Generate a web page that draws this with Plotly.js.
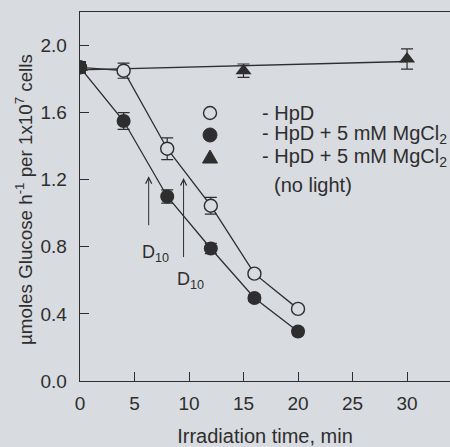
<!DOCTYPE html>
<html>
<head>
<meta charset="utf-8">
<script src="https://cdn.plot.ly/plotly-3.0.1.min.js"></script>
<style>
html,body{margin:0;padding:0;background:#d8dbe0;overflow:hidden;}
#chart{width:450px;height:447px;}
</style>
</head>
<body>
<div id="chart"></div>
<script>
// Data
const timeHpD = [0, 4, 8, 12, 16, 20];
const glucoseHpD = [1.87, 1.85, 1.385, 1.045, 0.64, 0.43];
const errHpD = [0.03, 0.045, 0.065, 0.05, 0.02, 0.02];

const timeMg = [0, 4, 8, 12, 16, 20];
const glucoseMg = [1.87, 1.55, 1.10, 0.79, 0.495, 0.295];
const errMg = [0.035, 0.05, 0.04, 0.03, 0.02, 0.02];

const timeDark = [0, 15, 30];
const glucoseDark = [1.87, 1.85, 1.92];
const errDark = [0.03, 0.04, 0.06];

const xTicks = [0, 5, 10, 15, 20, 25, 30];
const yTicks = [0.0, 0.4, 0.8, 1.2, 1.6, 2.0];

const legendNames = ['- HpD', '- HpD + 5 mM MgCl<sub>2</sub>', '- HpD + 5 mM MgCl<sub>2</sub>', '(no light)'];
const xTitle = 'Irradiation time, min';
const yTitle = 'µmoles Glucose h<sup>-1</sup> per 1x10<sup>7</sup> cells';

// D10 markers (time in min, arrow from/to glucose values)
const d10Time = [6.3, 9.5];
const d10From = [0.92, 0.73];
const d10To = [1.22, 1.21];
const d10LabelY = [0.76, 0.60];

// linear fit for the dark control
function fit(xs, ys){
  const n = xs.length;
  const mx = xs.reduce((a,b)=>a+b,0)/n, my = ys.reduce((a,b)=>a+b,0)/n;
  let num=0, den=0;
  for(let i=0;i<n;i++){num+=(xs[i]-mx)*(ys[i]-my);den+=(xs[i]-mx)**2;}
  const s=num/den; return [s, my - s*mx];
}
const [slope, icpt] = fit(timeDark, glucoseDark);
const fitX = [timeDark[0], timeDark[timeDark.length-1]];
const fitY = fitX.map(x => icpt + slope*x);

const ink = '#2e2e2e';
const bg = '#d8dbe0';
const fam = 'Liberation Sans, Arial, sans-serif';
const tickFont = {family: fam, size: 19, color: ink};
const d10Font = {family: fam, size: 18, color: ink};
const bigFont = {family: fam, size: 20, color: ink};

const ebar = (arr) => ({type: 'data', array: arr, visible: true, color: ink, thickness: 1.2, width: 6});

const traces = [
  {x: fitX, y: fitY, mode: 'lines', line: {color: ink, width: 1.3}, showlegend: false, hoverinfo: 'skip'},
  {x: timeHpD, y: glucoseHpD, name: legendNames[0], mode: 'lines+markers', showlegend: false,
   line: {color: ink, width: 1.3},
   marker: {symbol: 'circle', size: 13, color: bg, line: {width: 1.4, color: ink}},
   error_y: ebar(errHpD)},
  {x: timeMg, y: glucoseMg, name: legendNames[1], mode: 'lines+markers', showlegend: false,
   line: {color: ink, width: 1.3},
   marker: {symbol: 'circle', size: 14, color: ink},
   error_y: ebar(errMg)},
  {x: timeDark, y: glucoseDark, name: legendNames[2], mode: 'markers', showlegend: false,
   marker: {symbol: 'triangle-up', size: 14, color: ink},
   error_y: ebar(errDark)}
];

const annotations = [];
for (let i = 0; i < d10Time.length; i++) {
  annotations.push({x: d10Time[i], y: d10To[i], ax: d10Time[i], ay: d10From[i],
    xref: 'x', yref: 'y', axref: 'x', ayref: 'y', text: '', showarrow: true,
    arrowhead: 5, arrowsize: 1.2, arrowwidth: 1, arrowcolor: ink});
  annotations.push({x: d10Time[i] + 0.6, y: d10LabelY[i], xref: 'x', yref: 'y',
    text: 'D<sub>10</sub>', showarrow: false, font: d10Font});
}

// Hand-placed legend (paper coordinates)
const legX = 0.3514, legTextX = 0.4865;
const legY = [0.7263, 0.6667, 0.6070, 0.5312];
for (let i = 0; i < 3; i++) {
  annotations.push({x: legTextX, y: legY[i], xref: 'paper', yref: 'paper', xanchor: 'left', yanchor: 'middle',
    text: legendNames[i], showarrow: false, font: bigFont});
}
annotations.push({x: legTextX + 0.032, y: legY[3], xref: 'paper', yref: 'paper', xanchor: 'left', yanchor: 'middle',
  text: legendNames[3], showarrow: false, font: bigFont});

// y-axis title
annotations.push({x: -0.1514, y: 0.4932, xref: 'paper', yref: 'paper', xanchor: 'center', yanchor: 'middle',
  textangle: -90, text: yTitle, showarrow: false, font: {family: fam, size: 18.8, color: ink}});

const shapes = [
  {type: 'circle', xref: 'paper', yref: 'paper', xsizemode: 'pixel', ysizemode: 'pixel',
   xanchor: legX, yanchor: legY[0], x0: -6.5, x1: 6.5, y0: -6.5, y1: 6.5,
   line: {color: ink, width: 1.4}, fillcolor: bg},
  {type: 'circle', xref: 'paper', yref: 'paper', xsizemode: 'pixel', ysizemode: 'pixel',
   xanchor: legX, yanchor: legY[1], x0: -7, x1: 7, y0: -7, y1: 7,
   line: {color: ink, width: 1}, fillcolor: ink},
  {type: 'path', xref: 'paper', yref: 'paper', xsizemode: 'pixel', ysizemode: 'pixel',
   xanchor: legX, yanchor: legY[2], path: 'M -7.5 -6 L 7.5 -6 L 0 7 Z',
   line: {color: ink, width: 1}, fillcolor: ink}
];

const layout = {
  width: 450, height: 447,
  margin: {l: 80, r: 0, t: 12, b: 66},
  paper_bgcolor: bg, plot_bgcolor: bg,
  font: tickFont,
  showlegend: false,
  xaxis: {range: [0, 33.94], tickvals: xTicks, ticks: 'inside', ticklen: 9, tickcolor: ink,
    ticklabelstandoff: 5, tickfont: tickFont,
    showline: true, linecolor: ink, linewidth: 1.3, mirror: true, showgrid: false, zeroline: false,
    title: {text: xTitle, font: {family: fam, size: 20, color: ink}, standoff: 18}},
  yaxis: {range: [0, 2.2], tickvals: yTicks, ticktext: yTicks.map(v => v.toFixed(1)),
    ticks: 'inside', ticklen: 9, tickcolor: ink, ticklabelstandoff: 8, tickfont: tickFont,
    showline: true, linecolor: ink, linewidth: 1.3, showgrid: false, zeroline: false},
  annotations: annotations,
  shapes: shapes
};

Plotly.newPlot('chart', traces, layout, {displayModeBar: false, staticPlot: true});
</script>
</body>
</html>
